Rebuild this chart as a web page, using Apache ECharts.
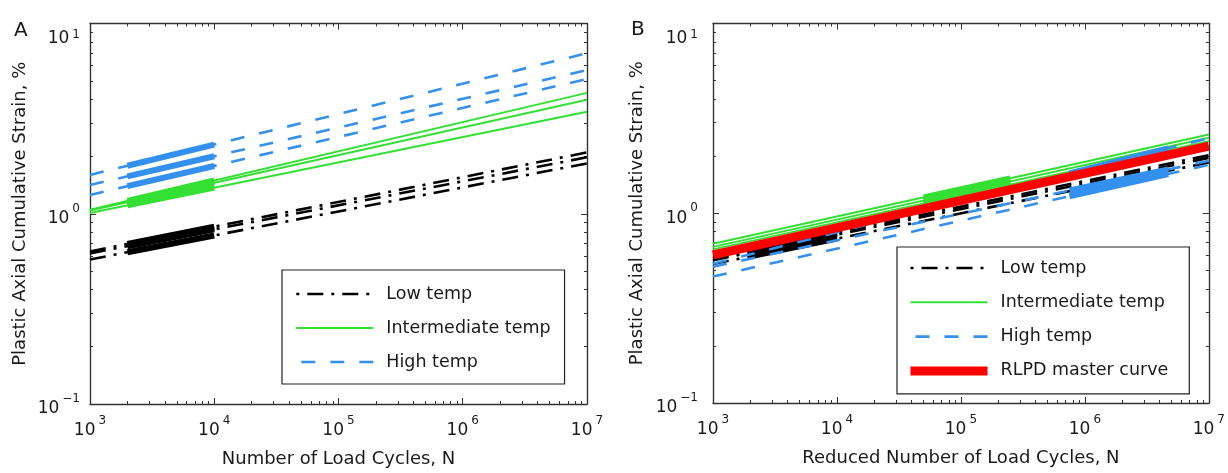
<!DOCTYPE html>
<html><head><meta charset="utf-8">
<script src="https://cdn.jsdelivr.net/npm/echarts@6/dist/echarts.min.js"></script>
<style>html,body{margin:0;padding:0;background:#fff}#c{width:1228px;height:473px}</style>
</head><body><div id="c"></div>
<script>
// ---------- data ----------
const xRange = [1e3, 1e7];
const yRange = [0.1, 10];
// Panel A: fitted lines (value at N=1e3, value at N=1e7)
const aLowStart  = [0.634, 0.619, 0.575], aLowEnd  = [2.10, 1.98, 1.84];
const aMidStart  = [1.05, 1.04, 1.01],    aMidEnd  = [4.32, 3.97, 3.44];
const aHighStart = [1.60, 1.416, 1.256],  aHighEnd = [6.98, 5.69, 5.11];
// Panel A: measured ranges (thick)
const aTestN    = [2000, 10000];
const aLowTest  = [[0.694, 0.855], [0.675, 0.828], [0.627, 0.769]];
const aMidTest  = [[1.168, 1.496], [1.150, 1.453], [1.108, 1.372]];
const aHighTest = [[1.787, 2.31], [1.572, 2.005], [1.396, 1.783]];
// Panel B: shifted lines
const bLowStart  = [0.58, 0.565, 0.54],   bLowEnd  = [2.02, 1.96, 1.85];
const bMidStart  = [0.69, 0.665, 0.645],  bMidEnd  = [2.6, 2.5, 2.4];
const bHighStart = [0.542, 0.523, 0.464], bHighEnd = [2.49, 1.89, 1.80];
const bMaster = [0.604, 2.26];
const bLowN = [2000, 10000], bMidN = [5e4, 2.5e5], bHighN = [7.5e5, 4.7e6];
const bLowTest  = [[0.637, 0.792], [0.620, 0.771], [0.593, 0.735]];
const bMidTest  = [[1.212, 1.528], [1.167, 1.471], [1.127, 1.418]];
const bHighTest = [[1.62, 2.197], [1.317, 1.70], [1.229, 1.61]];

const legendA = ['Low temp', 'Intermediate temp', 'High temp'];
const legendB = ['Low temp', 'Intermediate temp', 'High temp', 'RLPD master curve'];
const xTitleA = 'Number of Load Cycles, N';
const xTitleB = 'Reduced Number of Load Cycles, N';
const yTitle = 'Plastic Axial Cumulative Strain, %';

// minor tick positions (2..9 x decade)
const xMinor = [], yMinor = [];
for (let e = 3; e < 7; e++) for (let k = 2; k <= 9; k++) xMinor.push(k * Math.pow(10, e));
for (let e = -1; e < 1; e++) for (let k = 2; k <= 9; k++) yMinor.push(+(k * Math.pow(10, e)).toFixed(6));

// ---------- style ----------
const FONT = 'DejaVu Sans';
const AX = '#333';
const TXT = '#1a1a1a';
const C_LOW = '#000000', C_MID = '#33e033', C_HIGH = '#3390ee', C_RED = '#ff0000';
const DASHDOT = [16, 8, 3, 8];
const DASH = [14, 15];

function expStr(v) {
  const e = Math.round(Math.log10(v));
  return e < 0 ? '\u2212' + (-e) : '' + e;
}
const xRich = {
  b: {fontFamily: FONT, fontSize: 17, color: TXT, lineHeight: 32},
  e: {fontFamily: FONT, fontSize: 12, color: TXT, lineHeight: 10, verticalAlign: 'top', padding: [0, 0, 0, 3]}
};
const yRich = {
  b: {fontFamily: FONT, fontSize: 17, color: TXT, lineHeight: 22, padding: [10, 0, 0, 0]},
  e: {fontFamily: FONT, fontSize: 12, color: TXT, lineHeight: 10, verticalAlign: 'top', padding: [0, 0, 0, 3]},
  bt: {fontFamily: FONT, fontSize: 17, color: TXT, lineHeight: 22, padding: [30, 0, 0, 0]},
  et: {fontFamily: FONT, fontSize: 12, color: TXT, lineHeight: 10, verticalAlign: 'top', padding: [16, 0, 0, 3]}
};

function axisDef(kind, g, pos, minor, extra) {
  const isX = kind === 'x';
  const o = {
    type: 'log', logBase: 10, gridIndex: g, position: pos,
    min: isX ? xRange[0] : yRange[0], max: isX ? xRange[1] : yRange[1],
    axisLine: {show: !minor, onZero: false, lineStyle: {color: AX, width: 1.4}},
    axisTick: {show: true, inside: true, length: minor ? 3 : 6, lineStyle: {color: AX, width: 1}},
    axisLabel: {show: false},
    splitLine: {show: false}
  };
  if (minor) o.axisTick.customValues = isX ? xMinor : yMinor;
  return Object.assign(o, extra || {});
}

function xMain(g, name) {
  return axisDef('x', g, 'bottom', false, {
    name: name, nameLocation: 'middle', nameGap: 46,
    nameTextStyle: {fontFamily: FONT, fontSize: 18, color: TXT},
    axisLabel: {show: true, margin: 11, formatter: v => '{b|10}{e|' + expStr(v) + '}', rich: xRich}
  });
}
function yMain(g, gap, margin) {
  return axisDef('y', g, 'left', false, {
    name: yTitle, nameLocation: 'middle', nameGap: gap,
    nameTextStyle: {fontFamily: FONT, fontSize: 18, color: TXT},
    axisLabel: {show: true, margin: margin,
      formatter: v => (v > 5 ? '{bt|10}{et|' + expStr(v) + '}' : '{b|10}{e|' + expStr(v) + '}'), rich: yRich}
  });
}

const xAxes = [], yAxes = [];
[[0, xTitleA, 61, 10], [1, xTitleB, 67, 15]].forEach(([g, xt, yg, ym]) => {
  xAxes.push(xMain(g, xt), axisDef('x', g, 'top', false), axisDef('x', g, 'bottom', true), axisDef('x', g, 'top', true));
  yAxes.push(yMain(g, yg, ym), axisDef('y', g, 'right', false), axisDef('y', g, 'left', true), axisDef('y', g, 'right', true));
});

// ---------- series ----------
const series = [];
function line(g, name, pts, color, width, type, z) {
  series.push({
    type: 'line', name: name, xAxisIndex: g * 4, yAxisIndex: g * 4,
    data: pts, symbol: 'none', showSymbol: false, silent: true, z: z || 2,
    lineStyle: {color: color, width: width, type: type || 'solid', cap: 'butt'},
    itemStyle: {color: color}
  });
}
function family(g, name, starts, ends, testN, tests, color, type, thinW, thickW) {
  starts.forEach((s, i) => line(g, name, [[xRange[0], s], [xRange[1], ends[i]]], color, thinW, type));
  tests.forEach((t) => line(g, name + ' (measured)', [[testN[0], t[0]], [testN[1], t[1]]], color, thickW, 'solid'));
}
// Panel A
family(0, 'Low temp', aLowStart, aLowEnd, aTestN, aLowTest, C_LOW, DASHDOT, 2.6, 6);
family(0, 'Intermediate temp', aMidStart, aMidEnd, aTestN, aMidTest, C_MID, 'solid', 2, 6);
family(0, 'High temp', aHighStart, aHighEnd, aTestN, aHighTest, C_HIGH, DASH, 2.6, 6);
// Panel B
family(1, 'Low temp', bLowStart, bLowEnd, bLowN, bLowTest, C_LOW, DASHDOT, 2.6, 6);
family(1, 'Intermediate temp', bMidStart, bMidEnd, bMidN, bMidTest, C_MID, 'solid', 2, 6);
family(1, 'High temp', bHighStart, bHighEnd, bHighN, bHighTest, C_HIGH, DASH, 2.6, 6);
line(1, 'RLPD master curve', [[xRange[0], bMaster[0]], [xRange[1], bMaster[1]]], C_RED, 9, 'solid', 3);

function legendItems(names) {
  return names.map(n => n === 'Low temp' ? {name: n, lineStyle: {dashOffset: 24}} : {name: n});
}
const legendCommon = {
  orient: 'vertical', itemWidth: 77, itemHeight: 14, itemGap: 16,
  borderColor: '#222', borderWidth: 1.2, backgroundColor: '#fff', borderRadius: 0,
  selectedMode: false,
  itemStyle: {opacity: 0},
  lineStyle: {width: 'inherit'},
  textStyle: {fontFamily: FONT, fontSize: 17.5, color: TXT, padding: [0, 0, 0, 8]}
};

const option = {
  animation: false,
  backgroundColor: '#fff',
  grid: [
    {left: 90, top: 20, width: 497, height: 384, show: false},
    {left: 713, top: 19, width: 496, height: 384, show: false}
  ],
  xAxis: xAxes,
  yAxis: yAxes,
  legend: [
    Object.assign({}, legendCommon, {data: legendItems(legendA), left: 282, top: 270, padding: [15, 14, 13, 13]}),
    Object.assign({}, legendCommon, {data: legendItems(legendB), left: 897, top: 247, itemGap: 16.3, padding: [12, 21, 14, 9]})
  ],
  graphic: [
    {type: 'text', left: 14, top: 21, style: {text: 'A', font: '20px "DejaVu Sans"', fill: TXT}},
    {type: 'text', left: 631, top: 20, style: {text: 'B', font: '20px "DejaVu Sans"', fill: TXT}}
  ],
  series: series
};
const chart = echarts.init(document.getElementById('c'), null, {renderer: 'canvas'});
chart.setOption(option);
</script></body></html>
